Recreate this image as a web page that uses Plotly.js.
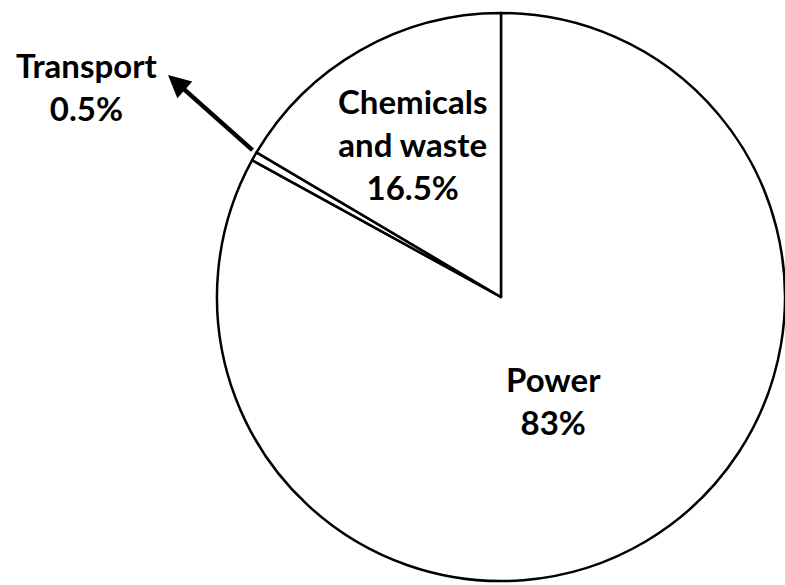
<!DOCTYPE html>
<html>
<head>
<meta charset="utf-8">
<script src="https://cdn.plot.ly/plotly-3.0.1.min.js"></script>
<style>html,body{margin:0;padding:0;background:#fff;}#chart{width:785px;height:585px;}</style>
</head>
<body>
<div id="chart"></div>
<script>
const sectors = ['Power', 'Transport', 'Chemicals and waste'];
const shares = [83, 0.5, 16.5];
const labelLines = ['Power', 'Transport', 'Chemicals<br>and waste'];

const FONT = {family: 'Lato, "Open Sans", sans-serif', size: 33, color: '#000'};
function lbl(i) { return '<b>' + labelLines[i] + '<br>' + shares[i] + '%</b>'; }

const trace = {
  type: 'pie',
  labels: sectors,
  values: shares,
  sort: false,
  direction: 'clockwise',
  rotation: 0,
  textinfo: 'none',
  hoverinfo: 'label+percent',
  marker: {colors: ['#ffffff', '#ffffff', '#ffffff'], line: {color: '#000', width: 2.5}},
  domain: {x: [0.2764, 1.0], y: [0.0068, 0.9778]},
  showlegend: false
};

const layout = {
  width: 785, height: 585,
  margin: {l: 0, r: 0, t: 0, b: 0},
  paper_bgcolor: '#fff',
  showlegend: false,
  font: FONT,
  annotations: [
    {xref: 'paper', yref: 'paper', x: 553/785, y: 1 - 400/585, xanchor: 'center', yanchor: 'middle', text: lbl(0), showarrow: false, font: FONT, align: 'center'},
    {xref: 'paper', yref: 'paper', x: 412/785, y: 1 - 144/585, xanchor: 'center', yanchor: 'middle', text: lbl(2), showarrow: false, font: FONT, align: 'center'},
    {xref: 'paper', yref: 'paper', x: 86/785, y: 1 - 86/585, xanchor: 'center', yanchor: 'middle', text: lbl(1), showarrow: false, font: FONT, align: 'center'},
    {xref: 'paper', yref: 'paper', x: 168/785, y: 1 - 75/585, text: ' ', showarrow: true,
     ax: 90, ay: 80, arrowhead: 2, arrowsize: 1, arrowwidth: 4.5, arrowcolor: '#000', standoff: 0, startstandoff: 0}
  ]
};

Plotly.newPlot('chart', [trace], layout, {displayModeBar: false, staticPlot: true});
</script>
</body>
</html>
